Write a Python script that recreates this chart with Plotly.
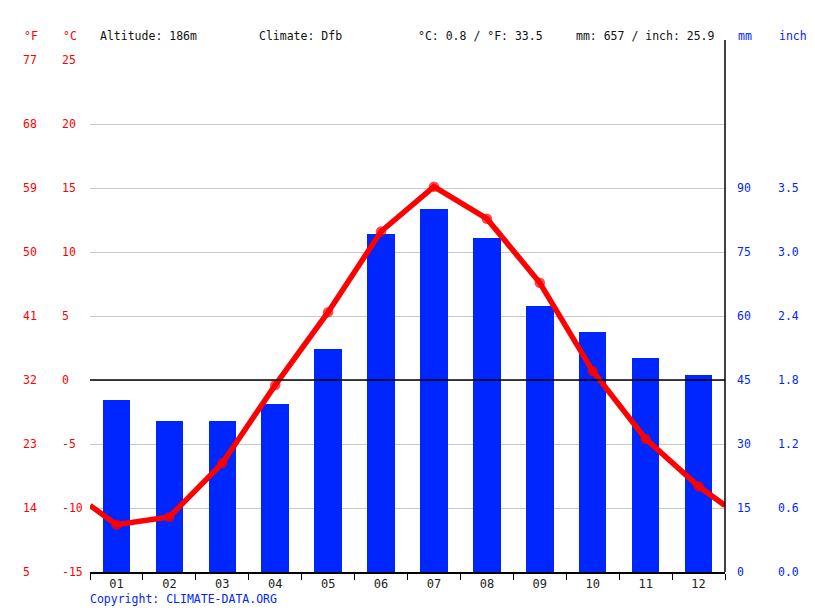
import plotly.graph_objects as go

months = ["01", "02", "03", "04", "05", "06", "07", "08", "09", "10", "11", "12"]
temp_c = [-11.3, -10.7, -6.5, -0.4, 5.3, 11.6, 15.1, 12.6, 7.6, 0.7, -4.6, -8.3]
precip_mm = [40.3, 35.4, 35.4, 39.4, 52.3, 79.2, 85.1, 78.3, 62.3, 56.2, 50.2, 46.2]

c_ticks = [-15, -10, -5, 0, 5, 10, 15, 20, 25]
f_ticks = [str(round(c * 9 / 5 + 32)) for c in c_ticks]
mm_ticks = [0, 15, 30, 45, 60, 75, 90]
inch_ticks = ["0.0", "0.6", "1.2", "1.8", "2.4", "3.0", "3.5"]

header_left = ["°F", "°C", "Altitude: 186m", "Climate: Dfb", "°C: 0.8 / °F: 33.5", "mm: 657 / inch: 25.9"]
header_right = ["mm", "inch"]

W, H = 815, 611
ML, MR, MT, MB = 10, 5, 60, 39
PW = W - ML - MR
PH = H - MT - MB

def px(x):
    return (x - ML) / PW

def py(y):
    return (H - MB - y) / PH

FONT = "DejaVu Sans Mono"
RED = "#ff0000"
BLUE = "#0026ff"

C_RANGE = [-15, 25]
MM_RANGE = [0, 120]

xpos = list(range(1, 13))
edge = (temp_c[0] + temp_c[-1]) / 2
line_x = [0.5] + xpos + [12.5]
line_y = [edge] + temp_c + [edge]
msize = [0] + [10.5] * 12 + [0]

fig = go.Figure()
fig.add_trace(go.Bar(x=xpos, y=precip_mm, yaxis="y", marker=dict(color=BLUE, line=dict(width=0)),
                     width=0.52, showlegend=False, hoverinfo="skip"))
fig.add_trace(go.Scatter(x=line_x, y=line_y, mode="lines+markers", yaxis="y2",
                         line=dict(color=RED, width=5.5),
                         marker=dict(color=RED, size=msize, line=dict(width=0)),
                         showlegend=False, hoverinfo="skip"))
for ax in ["y3", "y4", "y5", "y6"]:
    fig.add_trace(go.Scatter(x=[], y=[], yaxis=ax, showlegend=False, hoverinfo="skip"))

lab_font_red = dict(family=FONT, size=11.5, color=RED)
lab_font_blue = dict(family=FONT, size=11.5, color=BLUE)

grid_mm = list(range(0, 121, 15))

fig.update_layout(
    width=W, height=H,
    margin=dict(l=ML, r=MR, t=MT, b=MB, pad=0),
    paper_bgcolor="white", plot_bgcolor="white",
    bargap=0,
    xaxis=dict(domain=[px(90), px(725)], range=[0.5, 12.5], tickvals=xpos, ticktext=months,
               ticks="", showgrid=False, zeroline=False, showline=True, linecolor="black", linewidth=1.5,
               tickfont=dict(family=FONT, size=12, color="#222"),
               minor=dict(tickvals=[i + 0.5 for i in range(0, 13)], ticks="outside", ticklen=6,
                          tickcolor="black", tickwidth=1, showgrid=False)),
    yaxis=dict(range=MM_RANGE, tickvals=grid_mm, showticklabels=False, ticks="",
               showgrid=True, gridcolor="#c8c8c8", gridwidth=1, zeroline=False, showline=False),
    yaxis2=dict(range=C_RANGE, overlaying="y", side="right", showticklabels=False, showgrid=False,
                zeroline=False, ticks=""),
    yaxis3=dict(range=C_RANGE, overlaying="y", anchor="free", position=px(61), side="right",
                tickvals=c_ticks, ticktext=[str(c) for c in c_ticks], ticks="", showgrid=False,
                zeroline=False, showline=False, tickfont=lab_font_red),
    yaxis4=dict(range=C_RANGE, overlaying="y", anchor="free", position=px(22), side="right",
                tickvals=c_ticks, ticktext=f_ticks, ticks="", showgrid=False,
                zeroline=False, showline=False, tickfont=lab_font_red),
    yaxis5=dict(range=MM_RANGE, overlaying="y", anchor="free", position=px(736), side="right",
                tickvals=mm_ticks, ticktext=[str(v) for v in mm_ticks], ticks="", showgrid=False,
                zeroline=False, showline=False, tickfont=lab_font_blue),
    yaxis6=dict(range=MM_RANGE, overlaying="y", anchor="free", position=px(777), side="right",
                tickvals=mm_ticks, ticktext=inch_ticks, ticks="", showgrid=False,
                zeroline=False, showline=False, tickfont=lab_font_blue),
)

# 0 °C reference line, above the bars
fig.add_shape(type="line", xref="x", yref="y2", x0=0.5, x1=12.5, y0=0, y1=0,
              line=dict(color="black", width=1.5), layer="above")
# right vertical axis line
fig.add_shape(type="line", xref="paper", yref="paper", x0=px(725), x1=px(725), y0=0, y1=py(40),
              line=dict(color="black", width=1.5))

hx = [22, 61, 98, 257, 416, 574]
for t, x in zip(header_left, hx):
    col = RED if t in ("°F", "°C") else "#111"
    fig.add_annotation(text=t, x=px(x), y=py(36), xref="paper", yref="paper", xanchor="left",
                       yanchor="middle", showarrow=False, font=dict(family=FONT, size=11.5, color=col))
for t, x in zip(header_right, [736, 777]):
    fig.add_annotation(text=t, x=px(x), y=py(36), xref="paper", yref="paper", xanchor="left",
                       yanchor="middle", showarrow=False, font=dict(family=FONT, size=11.5, color=BLUE))

fig.add_annotation(text="Copyright: CLIMATE-DATA.ORG", x=px(88), y=py(599), xref="paper", yref="paper",
                   xanchor="left", yanchor="middle", showarrow=False,
                   font=dict(family=FONT, size=11.5, color=BLUE))

fig.write_html("out.html", config={"displayModeBar": False},
               post_script="document.body.style.margin='0';document.body.style.overflow='hidden';")
